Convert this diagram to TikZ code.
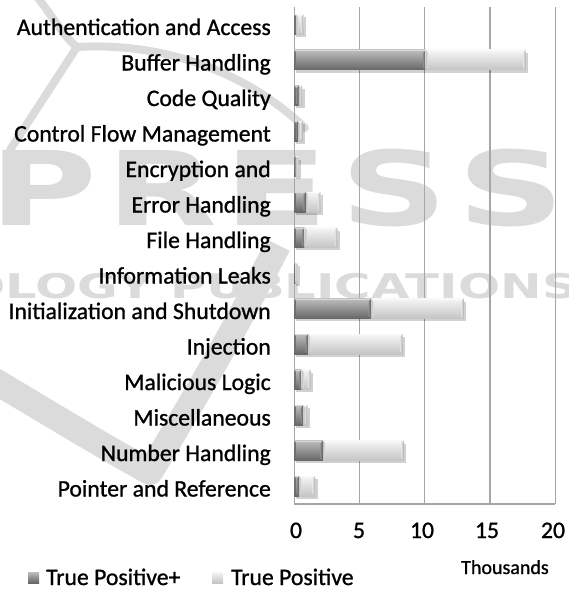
\documentclass[tikz,border=0pt]{standalone}
\usepackage{fontspec}
\setmainfont{Carlito}[RawFeature={embolden=1}]
\newfontfamily\wmfont{DejaVu Sans}
\definecolor{wmgray}{HTML}{DBDBDB}
\definecolor{gridgray}{HTML}{A6A6A6}
\definecolor{dktop}{HTML}{BEBEBE}
\definecolor{dkmid}{HTML}{8A8A8A}
\definecolor{dkbot}{HTML}{666666}
\definecolor{lttop}{HTML}{F6F6F6}
\definecolor{ltmid}{HTML}{E3E3E3}
\definecolor{ltbot}{HTML}{C4C4C4}
\tikzset{
  wm/.style={wmgray, line cap=round},
  gridline/.style={gridgray, line width=1.2pt},
  catlabel/.style={anchor=base east, inner sep=0pt, font=\fontsize{23.7}{26}\selectfont},
  ticklabel/.style={anchor=base, inner sep=0pt, font=\fontsize{23.7}{26}\selectfont},
  legendtext/.style={anchor=base west, inner sep=0pt, font=\fontsize{23.7}{26}\selectfont},
}
% one bevelled bar segment: x0, x1, vertical centre, colour prefix
\newcommand\barseg[4]{%
  \shade[top color=#4top, middle color=#4mid, bottom color=#4bot]
    (#1,#3-10) rectangle (#2,#3+10);
  \fill[white, opacity=.45] (#1,#3-10) rectangle (#2,#3-8.6);
  \shade[left color=#4mid, right color=#4bot!85!black]
    ({max(#1,#2-2.6)},#3-7) -- (#2,#3-10) -- (#2,#3+10) -- ({max(#1,#2-2.6)},#3+8) -- cycle;
  \shade[left color=#4bot, right color=#4mid]
    (#1,#3-10) -- ({min(#2,#1+2.2)},#3-7) -- ({min(#2,#1+2.2)},#3+8) -- (#1,#3+10) -- cycle;
}
\begin{document}
\begin{tikzpicture}[x=1pt,y=-1pt]
\useasboundingbox (0,0) rectangle (569,594);
% publisher watermark in the background
\begin{scope}[wm]
  \draw[line width=8pt] (38,-2) .. controls (55,20) and (65,38) .. (77,47);
  \draw[line width=8pt] (77,47) .. controls (160,42) and (245,70) .. (305,128);
  \draw[line width=8pt] (77,47) -- (10,150);
  \draw[line width=26pt, line join=round, line cap=butt]
    (-10,378) .. controls (60,420) and (110,450) .. (150,472)
    .. controls (200,390) and (240,320) .. (278,245);
  \node[inner sep=0pt, anchor=base west] at (-11,225)
    {\wmfont\bfseries\fontsize{103}{110}\selectfont\scalebox{1.43}[1]{P}};
  \node[inner sep=0pt, anchor=base west] at (106,225)
    {\wmfont\bfseries\fontsize{103}{110}\selectfont\scalebox{1.40}[1]{R}};
  \node[inner sep=0pt, anchor=base west] at (223,225)
    {\wmfont\bfseries\fontsize{103}{110}\selectfont\scalebox{1.50}[1]{E}};
  \node[inner sep=0pt, anchor=base west] at (340,225)
    {\wmfont\bfseries\fontsize{103}{110}\selectfont\scalebox{1.45}[1]{S}};
  \node[inner sep=0pt, anchor=base west] at (457,225)
    {\wmfont\bfseries\fontsize{103}{110}\selectfont\scalebox{1.45}[1]{S}};
  \node[inner sep=0pt, anchor=base east] at (578,298)
    {\wmfont\bfseries\fontsize{34}{36}\selectfont\scalebox{1.46}[1]{TECHNOLOGY PUBLICATIONS}};
\end{scope}
% grid and axes
\foreach \v in {5,10,15,20}
  \draw[gridline] ({294.3+13.05*\v},7) -- ({294.3+13.05*\v},504);
\draw[gridline] (294.3,7) -- (294.3,504) -- (555.3,504);
% stacked bars: index / True Positive+ / total (thousands)
\foreach \i/\d/\t in {0/0.15/0.7, 1/10.07/17.73, 2/0.35/0.6, 3/0.3/0.65,
    4/0.12/0.3, 5/0.9/2.0, 6/0.8/3.3, 7/0.1/0.25, 8/5.9/13.0, 9/1.07/8.3,
    10/0.57/1.26, 11/0.69/1.0, 12/2.2/8.4, 13/0.38/1.6} {
  \pgfmathsetmacro\yc{24.5+35.5*\i}
  \pgfmathsetmacro\xd{294.3+13.05*\d}
  \pgfmathsetmacro\xt{294.3+13.05*\t}
  \fill[black, opacity=.18] (295.5,\yc-7) rectangle (\xt+2.5,\yc+12.5);
  \barseg{294.3}{\xd}{\yc}{dk}
  \barseg{\xd}{\xt}{\yc}{lt}
}
% category labels
\foreach \i/\txt in {0/Authentication and Access, 1/Buffer Handling,
    2/Code Quality, 3/Control Flow Management, 4/Encryption and,
    5/Error Handling, 6/File Handling, 7/Information Leaks,
    8/Initialization and Shutdown, 9/Injection, 10/Malicious Logic,
    11/Miscellaneous, 12/Number Handling, 13/Pointer and Reference}
  \node[catlabel] (cat\i) at (271,{35+35.5*\i}) {\txt};
% value axis labels
\foreach \v/\x in {0/296, 5/359, 10/422, 15/487, 20/553}
  \node[ticklabel] (tick\v) at (\x,538) {\v};
\node[anchor=base, inner sep=0pt, font=\fontsize{20}{22}\selectfont] (unit) at (505,574) {Thousands};
% legend
\shade[top color=dktop, middle color=dkmid, bottom color=dkbot] (28,572) rectangle (39,583);
\node[legendtext] (leg1) at (46,585) {True Positive+};
\shade[top color=lttop, middle color=ltmid, bottom color=ltbot] (212,572) rectangle (223,583);
\node[legendtext] (leg2) at (231,585) {True Positive};
\end{tikzpicture}
\end{document}
